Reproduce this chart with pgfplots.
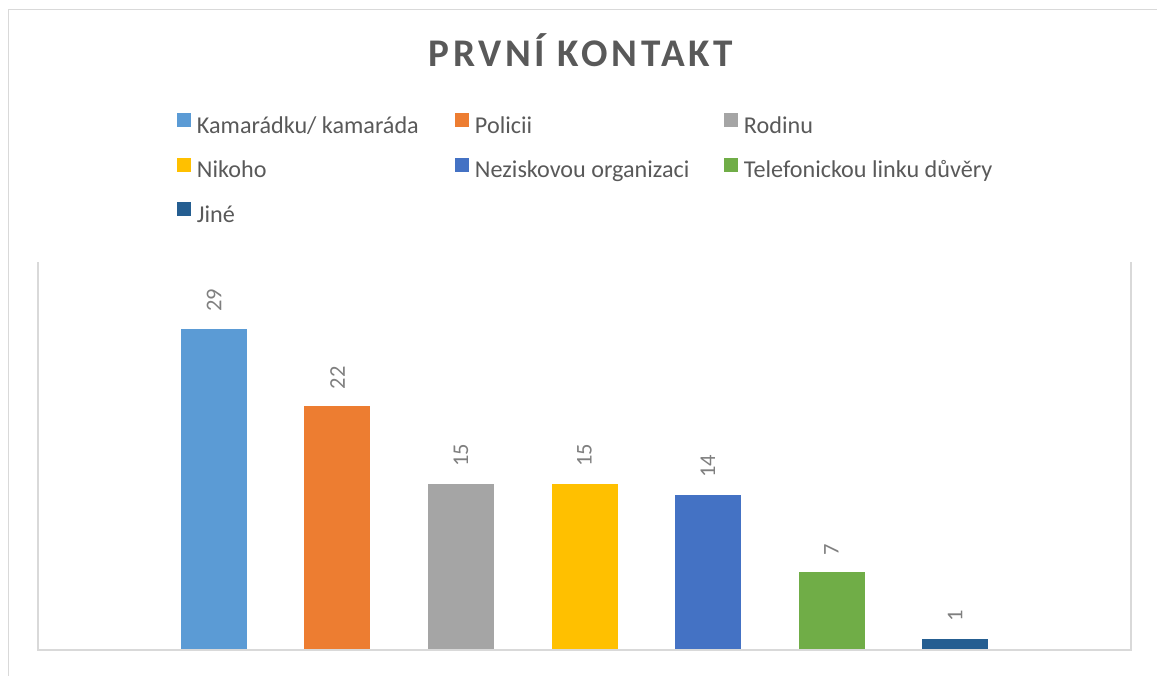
\documentclass[border=0pt]{standalone}
\usepackage{fontspec}
\setmainfont{Carlito}
\usepackage{pgfplots}
\pgfplotsset{compat=1.18}
\definecolor{c1}{HTML}{5B9BD5}
\definecolor{c2}{HTML}{ED7D31}
\definecolor{c3}{HTML}{A5A5A5}
\definecolor{c4}{HTML}{FFC000}
\definecolor{c5}{HTML}{4472C4}
\definecolor{c6}{HTML}{70AD47}
\definecolor{c7}{HTML}{255E91}
\definecolor{txt}{HTML}{595959}
\definecolor{lbl}{HTML}{7F7F7F}
\definecolor{grid}{HTML}{D9D9D9}
\begin{document}
\begin{tikzpicture}
\useasboundingbox (0pt,0pt) rectangle (694.2pt,-405pt);
\draw[grid, line width=0.9pt] (5pt,-5.6pt) rectangle (800pt,-500pt);
\node[anchor=base, text=txt, inner sep=0pt] at (348.5pt,-40pt) {\fontsize{23.5}{28}\selectfont\bfseries\addfontfeature{LetterSpace=9.5}PRVNÍ KONTAKT};
\begin{axis}[
  at={(22.8pt,-390pt)}, anchor=south west,
  scale only axis, width=655.8pt, height=232.8pt,
  xmin=-0.425, xmax=8.425, ymin=0, ymax=35,
  hide axis, clip=false,
  /pgf/number format/assume math mode=true,
  ybar, bar width=39.6pt, bar shift=0pt,
  nodes near coords,
  every node near coord/.append style={rotate=90, anchor=west, inner xsep=10pt, inner ysep=0pt, text=lbl, font=\fontsize{13.5}{16}\selectfont},
  legend columns=3,
  legend image code/.code={\fill[#1] (0pt,0.3pt) rectangle (8.4pt,8.7pt);},
  legend style={at={(rel axis cs:0.12717,1.2366)}, anchor=west, draw=none, fill=none, inner sep=0pt, outer sep=0pt,
    row sep=11.6pt, column sep=0pt,
    nodes={inner sep=0pt, text height=10pt, text depth=3pt, text=txt, font=\fontsize{14.5}{17}\selectfont},
    /tikz/every odd column/.append style={column sep=3.6pt}},
  legend cell align=left,
]
\addplot[fill=c1, draw=none] coordinates {(1,29)};
\addlegendentry{\makebox[154.8pt][l]{Kamarádku/ kamaráda}}
\addplot[fill=c2, draw=none] coordinates {(2,22)};
\addlegendentry{\makebox[149.4pt][l]{Policii}}
\addplot[fill=c3, draw=none] coordinates {(3,15)};
\addlegendentry{Rodinu}
\addplot[fill=c4, draw=none] coordinates {(4,15)};
\addlegendentry{\makebox[154.8pt][l]{Nikoho}}
\addplot[fill=c5, draw=none] coordinates {(5,14)};
\addlegendentry{\makebox[149.4pt][l]{Neziskovou organizaci}}
\addplot[fill=c6, draw=none] coordinates {(6,7)};
\addlegendentry{Telefonickou linku důvěry}
\addplot[fill=c7, draw=none] coordinates {(7,1)};
\addlegendentry{\makebox[154.8pt][l]{Jiné}}
\draw[grid, line width=0.9pt] (rel axis cs:0,1) -- (rel axis cs:0,0) -- (rel axis cs:1,0) -- (rel axis cs:1,1);
\end{axis}
\end{tikzpicture}
\end{document}
